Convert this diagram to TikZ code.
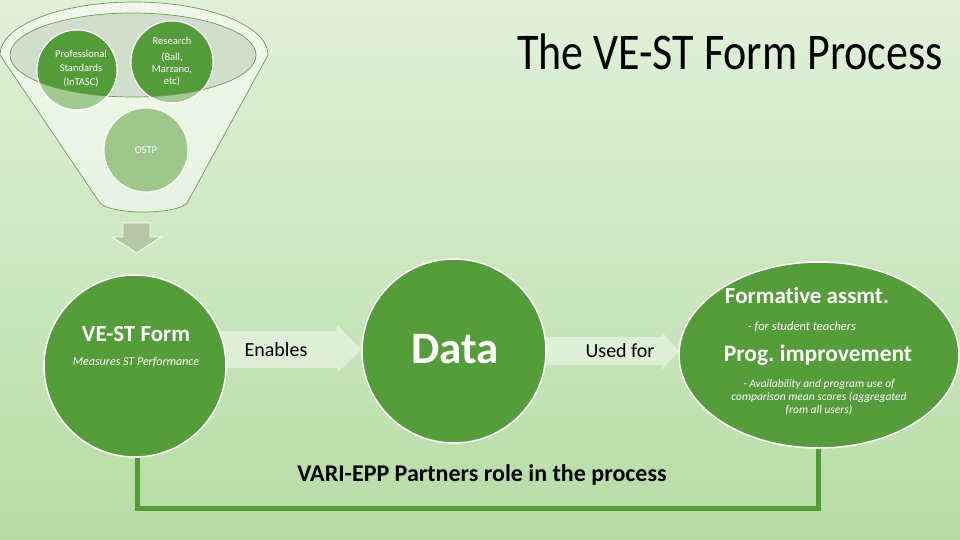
\documentclass[tikz,border=0pt]{standalone}
\usepackage{fontspec}
\setmainfont{Carlito}[Ligatures={NoCommon}]
\usepackage{graphicx}
\usetikzlibrary{shapes.geometric}
\definecolor{bgA}{HTML}{C4E4B4}
\definecolor{bgB}{HTML}{AFD99B}
\definecolor{bgC}{HTML}{CCE7C0}
\definecolor{bgD}{HTML}{F6FAF3}
\definecolor{dkgreen}{HTML}{559C3A}
\definecolor{ltgreen}{HTML}{A3CA91}
\definecolor{ostpgreen}{HTML}{9EC88B}
\definecolor{ellfill}{HTML}{CDDAC6}
\definecolor{funnelline}{HTML}{6E9A5A}
\definecolor{arrgray}{HTML}{B5C7A8}
\definecolor{connline}{HTML}{529B38}
\pgfdeclareverticalshading{bgshade}{100bp}{color(0bp)=(bgA); color(18bp)=(bgB); color(50bp)=(bgC); color(100bp)=(bgD)}
\tikzset{
  bigcirc/.style={circle, fill=dkgreen, draw=white, line width=1.5pt, inner sep=0pt},
  smallcirc/.style={circle, draw=white, line width=1pt, inner sep=0pt},
  wtext/.style={text=white, align=center, inner sep=0pt},
  btext/.style={text=black, align=center, inner sep=0pt},
  blockarrow/.style={fill=white, fill opacity=0.45},
  conn/.style={draw=connline, line width=5pt}
}
\begin{document}
\frenchspacing
\begin{tikzpicture}[x=1pt,y=-1pt]
\useasboundingbox (0,0) rectangle (960,540);
\shade[shading=bgshade] (0,0) rectangle (960,540);

% funnel
\path[fill=white, fill opacity=0.5, draw=funnelline, line width=0.7pt]
  (0,55) arc[start angle=180, end angle=360, x radius=134, y radius=53]
  -- (187,203) .. controls (176,215) and (111,215) .. (100,203) -- cycle;
\fill[ellfill, fill opacity=0.85] (133,55) ellipse[x radius=123, y radius=42];

% funnel circles
\node[smallcirc, minimum size=80pt, fill=ltgreen] (prof) at (77,70) {};
\node[smallcirc, minimum size=82pt, fill=ltgreen] (res) at (172,62) {};
\begin{scope}
  \clip (133,55) ellipse[x radius=123, y radius=42];
  \fill[dkgreen] (prof.center) circle[radius=40];
  \fill[dkgreen] (res.center) circle[radius=41];
\end{scope}
\draw[funnelline, line width=0.7pt] (133,55) ellipse[x radius=123, y radius=42];
\draw[white, line width=1pt] (prof.center) circle[radius=40];
\draw[white, line width=1pt] (res.center) circle[radius=41];
\node[smallcirc, minimum size=84pt, fill=ostpgreen] (ostp) at (146,150) {};

\node[wtext, font=\fontsize{10.5}{14}\selectfont] (proftext) at (81,69) {Professional\\Standards\\(InTASC)};
\node[wtext, font=\fontsize{10.5}{12}\selectfont] (restext) at (172,62) {Research\\[4pt](Ball,\\Marzano,\\etc)};
\node[wtext, font=\fontsize{10.5}{12}\selectfont] (ostptext) at (146,150) {OSTP};

% down arrow
\path[fill=arrgray, draw=white, line width=0.8pt]
  (123,223) -- (150,223) -- (150,237) -- (161,237) -- (136.5,253) -- (112,237) -- (123,237) -- cycle;

% title
\node[inner sep=0pt, anchor=base] (title) at (730,70)
  {\scalebox{1}[1.17]{\fontsize{44}{44}\selectfont The VE-ST Form Process}};

% block arrows
\path[blockarrow] (215,331) -- (337,331) -- (337,325) -- (361,349) -- (337,373) -- (337,368) -- (215,368) -- cycle;
\path[blockarrow] (535,337) -- (662,337) -- (662,332) -- (679,351) -- (662,370) -- (662,365) -- (535,365) -- cycle;

% main shapes
\node[bigcirc, minimum size=182pt] (vest) at (135,366) {};
\node[bigcirc, minimum size=184pt] (data) at (454,351) {};
\node[ellipse, fill=dkgreen, draw=white, line width=1.5pt, minimum width=280pt, minimum height=186pt, inner sep=0pt] (goal) at (819,355) {};

% connector
\coordinate (bottomlevel) at (0,508);
\draw[conn] ([xshift=2pt]vest.south) -- ([xshift=2pt]vest.south |- bottomlevel) -| ([xshift=-1pt]goal.south);

% texts
\node[wtext, font=\fontsize{23}{23}\selectfont\bfseries] (vesttitle) at (136,334) {VE-ST Form};
\node[wtext, font=\fontsize{12}{12}\selectfont\itshape] (vestsub) at (136,362) {Measures ST Performance};
\node[btext, font=\fontsize{20}{20}\selectfont] (enables) at (276,350) {Enables};
\node[wtext, font=\fontsize{45}{45}\selectfont\bfseries] (datatext) at (455,349) {Data};
\node[btext, font=\fontsize{20}{20}\selectfont] (usedfor) at (620,351) {Used for};
\node[wtext, font=\fontsize{23}{23}\selectfont\bfseries] (form) at (807,296) {Format\kern0pt ive assmt.};
\node[wtext, font=\fontsize{12.5}{12.5}\selectfont\itshape] (formsub) at (802,327) {- for student teachers};
\node[wtext, font=\fontsize{23.5}{23.5}\selectfont\bfseries] (prog) at (818,355) {Prog. improvement};
\node[wtext, font=\fontsize{11.5}{13}\selectfont\itshape] (progsub) at (819,397) {- Availability and program use of\\comparison mean scores (aggregated\\from all users)};
\node[btext, font=\fontsize{24}{24}\selectfont\bfseries] (vari) at (482,475) {VARI-EPP Partners role in the process};
\end{tikzpicture}
\end{document}
